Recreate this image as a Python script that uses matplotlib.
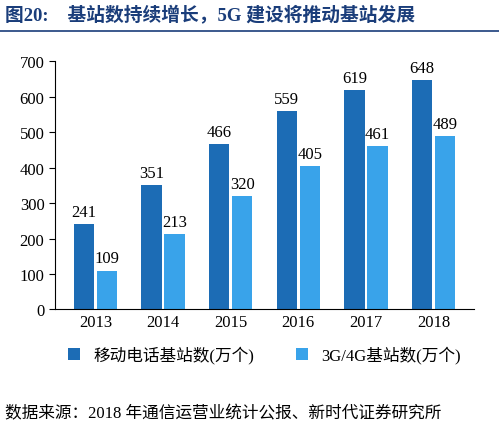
import matplotlib
matplotlib.use("Agg")
import matplotlib.pyplot as plt
import numpy as np

years = ["2013", "2014", "2015", "2016", "2017", "2018"]
mobile = [241, 351, 466, 559, 619, 648]
g34 = [109, 213, 320, 405, 461, 489]

plt.rcParams['font.family'] = ['Liberation Serif', 'Noto Sans CJK SC', 'DejaVu Sans']

fig = plt.figure(figsize=(4.99, 4.31), dpi=100)
ax = fig.add_axes([0.11, 0.28, 0.84, 0.575])

x = np.arange(len(years))
w = 0.3
c1, c2 = "#1c6cb5", "#39a3ea"
b1 = ax.bar(x - w / 2 - 0.02, mobile, w, color=c1, label="移动电话基站数(万个)")
b2 = ax.bar(x + w / 2 + 0.02, g34, w, color=c2, label="3G/4G基站数(万个)")
for rect, v in zip(b1, mobile):
    ax.text(rect.get_x() + rect.get_width() / 2, v + 12, str(v), ha="center", va="bottom", fontsize=12)
for rect, v in zip(b2, g34):
    ax.text(rect.get_x() + rect.get_width() / 2, v + 12, str(v), ha="center", va="bottom", fontsize=12)

ax.set_ylim(0, 700)
ax.set_yticks(range(0, 701, 100))
ax.set_xlim(-0.6, 5.6)
ax.set_xticks(x)
ax.set_xticklabels(years)
ax.tick_params(labelsize=12, length=0)
ax.tick_params(axis="y", length=4)
for s in ["top", "right"]:
    ax.spines[s].set_visible(False)

fig.legend(handles=[b1, b2], loc="center", bbox_to_anchor=(0.53, 0.175), ncol=2,
           frameon=False, fontsize=12, handlelength=0.7, columnspacing=2.5)

fig.text(0.01, 0.963, "图20:    基站数持续增长，5G 建设将推动基站发展", fontsize=13.5,
         fontweight="bold", color="#1a3d7a", va="center")
fig.add_artist(plt.Line2D([0.0, 1.0], [0.925, 0.925], color="#1a3d7a", lw=1.2))
fig.text(0.01, 0.04, "数据来源：2018 年通信运营业统计公报、新时代证券研究所", fontsize=12, va="center")

fig.savefig("out.png")
